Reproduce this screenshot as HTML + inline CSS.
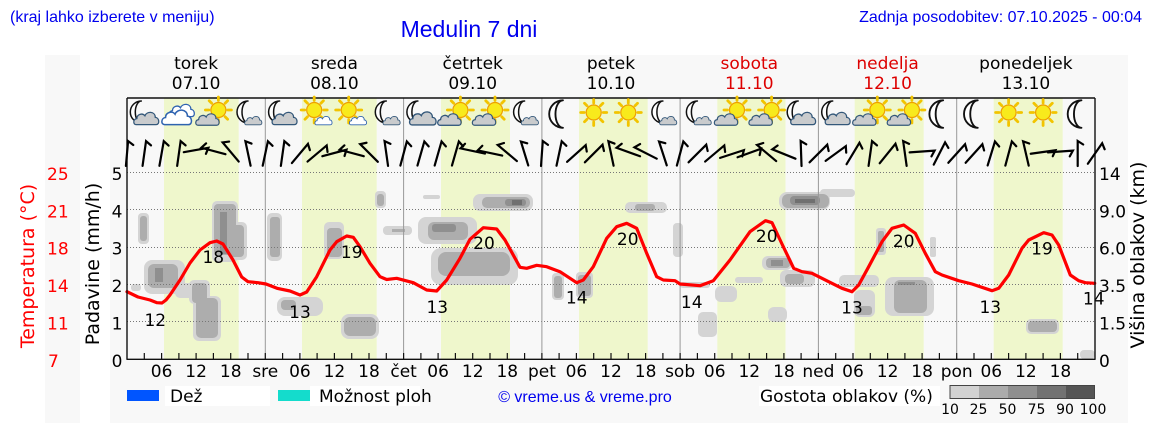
<!DOCTYPE html>
<html><head><meta charset="utf-8"><style>
html,body{margin:0;padding:0;background:#fff;width:1152px;height:443px;overflow:hidden}
svg{display:block}
.dj{font-family:"DejaVu Sans","Liberation Sans",sans-serif}
.ls{font-family:"Liberation Sans",Arial,sans-serif}
</style></head><body>
<svg width="1152" height="443" viewBox="0 0 1152 443" xmlns="http://www.w3.org/2000/svg">
<defs>
<g id="moon"><path d="M3,-11 A11,11 0 1,0 3,11 A6,11 0 0,1 3,-11 Z" fill="#fff" stroke="#111" stroke-width="1.5" stroke-linejoin="round"/></g>
<g id="sun"><g stroke="#f2c400" stroke-width="2.8" stroke-linecap="round"><path d="M9.5,0H13M6.7,6.7L9.2,9.2M0,9.5V13M-6.7,6.7L-9.2,9.2M-9.5,0H-13M-6.7,-6.7L-9.2,-9.2M0,-9.5V-13M6.7,-6.7L9.2,-9.2"/></g><circle r="7.5" fill="#f8ea1c" stroke="#ee9f00" stroke-width="1.2"/></g>
<path id="cg" d="M-14,7 C-18,7 -18,0 -13,-0.5 C-13,-6 -6,-8 -3,-4 C-1,-10 10,-10 10,-2 C15,-2 16,7 11,7 Z" fill="#c9cbcd" stroke="#34587a" stroke-width="1.6"/>
<path id="cw" d="M-14,7 C-18,7 -18,0 -13,-0.5 C-13,-6 -6,-8 -3,-4 C-1,-10 10,-10 10,-2 C15,-2 16,7 11,7 Z" fill="#fff" stroke="#2f63b0" stroke-width="1.6"/>
</defs>

<!-- header texts -->
<text x="10" y="22" class="ls" font-size="16" fill="#0000ee">(kraj lahko izberete v meniju)</text>
<text x="469" y="37" class="ls" font-size="23" fill="#0000ee" text-anchor="middle">Medulin 7 dni</text>
<text x="1142" y="22" class="ls" font-size="16" fill="#0000ee" text-anchor="end">Zadnja posodobitev: 07.10.2025 - 00:04</text>

<!-- panels -->
<rect x="45" y="55" width="35" height="368" fill="#f8f8f8"/>
<rect x="110" y="55" width="1018" height="368" fill="#f8f8f8"/>

<!-- yellow daylight bands -->
<g fill="#eff7cc">
<rect x="164" y="98" width="74.7" height="261"/>
<rect x="302" y="98" width="74.7" height="261"/>
<rect x="441" y="98" width="69" height="261"/>
<rect x="579" y="98" width="68.7" height="261"/>
<rect x="717.3" y="98" width="68.2" height="261"/>
<rect x="854.7" y="98" width="69" height="261"/>
<rect x="993.7" y="98" width="69" height="261"/>
</g>

<!-- clouds -->
<g fill="#d4d4d4">
<rect x="131" y="284" width="10" height="7" rx="3"/>
<rect x="138" y="213" width="11" height="31" rx="4"/>
<rect x="144" y="260" width="41" height="34" rx="8"/>
<rect x="175" y="283" width="25" height="15" rx="5"/>
<rect x="189" y="280" width="21" height="24" rx="5"/>
<rect x="193" y="296" width="28" height="45" rx="6"/>
<rect x="212" y="201" width="26" height="61" rx="5"/>
<rect x="226" y="222" width="21" height="38" rx="5"/>
<rect x="267" y="213" width="15" height="48" rx="5"/>
<rect x="277" y="297" width="46" height="19" rx="8"/>
<rect x="341" y="314" width="38" height="25" rx="8"/>
<rect x="324" y="222" width="20" height="37" rx="5"/>
<rect x="375" y="191" width="11" height="17" rx="4"/>
<rect x="383" y="226" width="29" height="9" rx="4"/>
<rect x="423" y="195" width="17" height="4" rx="2"/>
<rect x="418" y="217" width="59" height="27" rx="8"/>
<rect x="431" y="248" width="87" height="37" rx="10"/>
<rect x="473" y="194" width="60" height="17" rx="7"/>
<rect x="552" y="273" width="12" height="27" rx="4"/>
<rect x="576" y="272" width="17" height="26" rx="4"/>
<rect x="625" y="202" width="42" height="11" rx="5"/>
<rect x="673" y="223" width="10" height="34" rx="4"/>
<rect x="680" y="282" width="30" height="6" rx="3"/>
<rect x="715" y="286" width="22" height="16" rx="6"/>
<rect x="698" y="312" width="19" height="25" rx="5"/>
<rect x="735" y="277" width="28" height="6" rx="3"/>
<rect x="768" y="307" width="19" height="15" rx="6"/>
<rect x="762" y="256" width="30" height="14" rx="6"/>
<rect x="780" y="270" width="35" height="17" rx="6"/>
<rect x="779" y="192" width="51" height="18" rx="8"/>
<rect x="820" y="189" width="35" height="8" rx="4"/>
<rect x="839" y="275" width="40" height="12" rx="5"/>
<rect x="854" y="290" width="21" height="27" rx="6"/>
<rect x="876" y="228" width="10" height="27" rx="3"/>
<rect x="885" y="277" width="49" height="39" rx="8"/>
<rect x="930" y="237" width="6" height="20" rx="2"/>
<rect x="1026" y="319" width="33" height="15" rx="5"/>
<rect x="1080" y="350" width="15" height="9" rx="4"/>
</g>
<g fill="#adadad">
<rect x="140" y="216" width="7" height="25" rx="3"/>
<rect x="148" y="264" width="30" height="24" rx="6"/>
<rect x="192" y="283" width="15" height="20" rx="4"/>
<rect x="196" y="298" width="22" height="40" rx="5"/>
<rect x="214" y="204" width="22" height="51" rx="4"/>
<rect x="228" y="225" width="16" height="32" rx="4"/>
<rect x="270" y="217" width="10" height="40" rx="3"/>
<rect x="281" y="300" width="15" height="10" rx="4"/>
<rect x="344" y="317" width="32" height="19" rx="6"/>
<rect x="327" y="228" width="15" height="29" rx="4"/>
<rect x="377" y="194" width="7" height="12" rx="3"/>
<rect x="392" y="229" width="13" height="3"/>
<rect x="428" y="222" width="40" height="18" rx="6"/>
<rect x="438" y="252" width="72" height="24" rx="8"/>
<rect x="482" y="197" width="48" height="11" rx="5"/>
<rect x="554" y="276" width="8" height="22" rx="3"/>
<rect x="578" y="275" width="13" height="21" rx="3"/>
<rect x="635" y="204" width="20" height="7" rx="3"/>
<rect x="766" y="258" width="24" height="10" rx="4"/>
<rect x="785" y="274" width="19" height="10" rx="4"/>
<rect x="782" y="194" width="47" height="14" rx="6"/>
<rect x="856" y="306" width="16" height="9" rx="3"/>
<rect x="878" y="231" width="6" height="21" rx="2"/>
<rect x="894" y="280" width="33" height="33" rx="6"/>
<rect x="1028" y="321" width="29" height="11" rx="4"/>
</g>
<g fill="#8f8f8f">
<rect x="155" y="268" width="8" height="14"/>
<rect x="220" y="212" width="7" height="42"/>
<rect x="432" y="224" width="24" height="8" rx="3"/>
<rect x="505" y="199" width="21" height="7" rx="3"/>
<rect x="771" y="260" width="12" height="6"/>
<rect x="790" y="196" width="30" height="9" rx="4"/>
<rect x="898" y="282" width="17" height="3"/>
</g>
<g fill="#707070">
<rect x="512" y="200" width="10" height="5"/>
<rect x="795" y="199" width="20" height="4"/>
</g>

<!-- gridlines -->
<g stroke="#777" stroke-width="1" stroke-dasharray="1,2">
<line x1="127" y1="172.5" x2="1095" y2="172.5"/>
<line x1="127" y1="209.5" x2="1095" y2="209.5"/>
<line x1="127" y1="247.5" x2="1095" y2="247.5"/>
<line x1="127" y1="284.5" x2="1095" y2="284.5"/>
<line x1="127" y1="321.5" x2="1095" y2="321.5"/>
</g>

<!-- day separators -->
<g stroke="#999" stroke-width="1">
<line x1="265.3" y1="98" x2="265.3" y2="359"/>
<line x1="403.6" y1="98" x2="403.6" y2="359"/>
<line x1="541.9" y1="98" x2="541.9" y2="359"/>
<line x1="680.1" y1="98" x2="680.1" y2="359"/>
<line x1="818.4" y1="98" x2="818.4" y2="359"/>
<line x1="956.7" y1="98" x2="956.7" y2="359"/>
</g>

<!-- temperature curve -->
<polyline fill="none" stroke="#ff0000" stroke-width="3.2" stroke-linejoin="round" stroke-linecap="round" points="127,291.7 138,297 150,300 157,302.7 162,303 166,300 170,295 180,280 190,263 200,250 210,242.7 216.7,241 223,244 233,260 241.7,277 248,281.7 258,282.7 266,284 277,288.3 290,291 300,295 306.7,292 316.7,276.7 330,250 336.7,241.7 346.7,236 353.3,237.3 360,246.7 370,263.3 380,276.7 386.7,279.5 396.7,278.3 413.3,282.7 426.7,290 436.7,291 446.7,280 460,258.3 470,239.3 483.3,227.7 496.7,229 505,240 520,267.3 526.7,268.3 536.7,265.3 546.7,266.7 560,271.7 576.7,282.7 583.3,280 593.3,266.7 606.7,238.3 616.7,226.7 626.7,223.3 636.7,228.3 646.7,253.3 656.7,276.7 663.3,280 675,280.7 680,284 700,285.7 713.3,280.7 730,260 750,231.7 765.5,220.7 772,222.7 782,244 793.7,268.3 802,271.7 812,273.3 828.7,281.7 842,288.3 852,291.7 858.7,285 868.7,266.7 882,241.7 892,228.3 903.7,225 915.3,233.3 925.3,253.3 935.3,271.7 942,275 958.7,280.7 972,284 992,290.7 998.7,288.3 1008.7,275 1022,248.3 1028.7,240 1043.7,232.7 1052,235 1058.7,245 1070.3,275 1078.7,280.7 1085.3,282.7 1094.7,283.3"/>

<!-- temperature labels -->
<g class="dj" font-size="17" fill="#000" text-anchor="middle">
<text x="155.3" y="326">12</text>
<text x="213.3" y="263">18</text>
<text x="300" y="318">13</text>
<text x="351.7" y="258">19</text>
<text x="437.3" y="313">13</text>
<text x="484" y="249">20</text>
<text x="576.7" y="303.5">14</text>
<text x="627.7" y="245">20</text>
<text x="691.7" y="308">14</text>
<text x="766.7" y="242">20</text>
<text x="852" y="313.5">13</text>
<text x="903.7" y="247">20</text>
<text x="990.3" y="313">13</text>
<text x="1042" y="254.5">19</text>
<text x="1093.7" y="304.5">14</text>
</g>

<!-- frame -->
<g stroke="#111" stroke-width="1.4" fill="none">
<line x1="127" y1="98" x2="1095" y2="98"/>
<line x1="127" y1="98" x2="127" y2="359.5"/>
<line x1="1095" y1="98" x2="1095" y2="359.5"/>
<line x1="126.5" y1="359.3" x2="1095.5" y2="359.3"/>
</g>
<!-- ticks -->
<path stroke="#111" stroke-width="1.2" d="M144.3,353V359M161.6,353V359M178.9,353V359M196.1,353V359M213.4,353V359M230.7,353V359M248,353V359M265.3,353V359M282.6,353V359M299.9,353V359M317.1,353V359M334.4,353V359M351.7,353V359M369,353V359M386.3,353V359M403.6,353V359M420.9,353V359M438.1,353V359M455.4,353V359M472.7,353V359M490,353V359M507.3,353V359M524.6,353V359M541.9,353V359M559.1,353V359M576.4,353V359M593.7,353V359M611,353V359M628.3,353V359M645.6,353V359M662.9,353V359M680.1,353V359M697.4,353V359M714.7,353V359M732,353V359M749.3,353V359M766.6,353V359M783.9,353V359M801.1,353V359M818.4,353V359M835.7,353V359M853,353V359M870.3,353V359M887.6,353V359M904.9,353V359M922.1,353V359M939.4,353V359M956.7,353V359M974,353V359M991.3,353V359M1008.6,353V359M1025.9,353V359M1043.1,353V359M1060.4,353V359M1077.7,353V359"/>

<!-- x-axis labels -->
<g class="dj" font-size="17" fill="#000" text-anchor="middle">
<text x="161.6" y="377">06</text><text x="196.1" y="377">12</text><text x="230.7" y="377">18</text>
<text x="265.3" y="377">sre</text><text x="299.9" y="377">06</text><text x="334.4" y="377">12</text><text x="369" y="377">18</text>
<text x="403.6" y="377">čet</text><text x="438.1" y="377">06</text><text x="472.7" y="377">12</text><text x="507.3" y="377">18</text>
<text x="541.9" y="377">pet</text><text x="576.4" y="377">06</text><text x="611" y="377">12</text><text x="645.6" y="377">18</text>
<text x="680.1" y="377">sob</text><text x="714.7" y="377">06</text><text x="749.3" y="377">12</text><text x="783.9" y="377">18</text>
<text x="818.4" y="377">ned</text><text x="853" y="377">06</text><text x="887.6" y="377">12</text><text x="922.1" y="377">18</text>
<text x="956.7" y="377">pon</text><text x="991.3" y="377">06</text><text x="1025.9" y="377">12</text><text x="1060.4" y="377">18</text>
</g>

<!-- left axis labels -->
<g class="dj" font-size="17" fill="#000" text-anchor="end">
<text x="122.5" y="180">5</text><text x="122.5" y="217.3">4</text><text x="122.5" y="254.7">3</text>
<text x="122.5" y="292">2</text><text x="122.5" y="329.5">1</text><text x="122.5" y="366.8">0</text>
</g>
<g class="dj" font-size="17" fill="#ff0000">
<text x="47" y="180">25</text><text x="47" y="217.3">21</text><text x="47" y="254.7">18</text>
<text x="47" y="292">14</text><text x="47" y="329.5">11</text><text x="48" y="366.8">7</text>
</g>
<g class="dj" font-size="17" fill="#000">
<text x="1099" y="180">14</text><text x="1099" y="217.3">9.0</text><text x="1099" y="254.7">6.0</text>
<text x="1099" y="292">3.5</text><text x="1099" y="329.5">1.5</text><text x="1099" y="366.8">0</text>
</g>
<text class="dj" font-size="19" fill="#ff0000" text-anchor="middle" transform="translate(34,266) rotate(-90)">Temperatura (°C)</text>
<text class="dj" font-size="19" fill="#000" text-anchor="middle" transform="translate(99,264) rotate(-90)">Padavine (mm/h)</text>
<text class="dj" font-size="19" fill="#000" text-anchor="middle" transform="translate(1144,255) rotate(-90)">Višina oblakov (km)</text>

<!-- day labels -->
<g class="dj" font-size="17" text-anchor="middle" fill="#000">
<text x="196.1" y="69">torek</text><text x="196.1" y="89">07.10</text>
<text x="334.4" y="69">sreda</text><text x="334.4" y="89">08.10</text>
<text x="472.7" y="69">četrtek</text><text x="472.7" y="89">09.10</text>
<text x="611" y="69">petek</text><text x="611" y="89">10.10</text>
<text x="749.3" y="69" fill="#dd0000">sobota</text><text x="749.3" y="89" fill="#dd0000">11.10</text>
<text x="887.6" y="69" fill="#dd0000">nedelja</text><text x="887.6" y="89" fill="#dd0000">12.10</text>
<text x="1025.9" y="69">ponedeljek</text><text x="1025.9" y="89">13.10</text>
</g>

<!-- weather icons -->
<!-- d0 -->
<use href="#moon" transform="translate(138.3,112)"/><use href="#cg" transform="translate(147.3,119) scale(0.8)"/>
<use href="#cw" transform="translate(182.9,111) scale(0.8)"/><use href="#cw" transform="translate(177.9,118) scale(0.95)"/>
<use href="#sun" transform="translate(218.4,110)"/><use href="#cg" transform="translate(208.4,120) scale(0.75)"/>
<use href="#moon" transform="translate(245,112)"/><use href="#cg" transform="translate(254,121) scale(0.55)"/>
<!-- d1 -->
<use href="#moon" transform="translate(276.6,112)"/><use href="#cg" transform="translate(285.6,119) scale(0.8)"/>
<use href="#sun" transform="translate(314.2,110)"/><use href="#cw" transform="translate(324.2,121) scale(0.55)"/>
<use href="#sun" transform="translate(348.7,110)"/><use href="#cw" transform="translate(358.7,121) scale(0.55)"/>
<use href="#moon" transform="translate(383.3,112)"/><use href="#cg" transform="translate(392.3,121) scale(0.55)"/>
<!-- d2 -->
<use href="#moon" transform="translate(414.9,112)"/><use href="#cg" transform="translate(423.9,119) scale(0.85)"/>
<use href="#sun" transform="translate(460.4,110)"/><use href="#cw" transform="translate(450.4,120) scale(0.75)"/><use href="#cg" transform="translate(450.4,120) scale(0.75)"/>
<use href="#sun" transform="translate(495,110)"/><use href="#cg" transform="translate(485,120) scale(0.75)"/>
<use href="#moon" transform="translate(521.6,112)"/><use href="#cg" transform="translate(530.6,121) scale(0.55)"/>
<!-- d3 -->
<use href="#moon" transform="translate(559.2,114) scale(1.25)"/>
<use href="#sun" transform="translate(593.7,112.5)"/>
<use href="#sun" transform="translate(628.3,112.5)"/>
<use href="#moon" transform="translate(659.9,112)"/><use href="#cg" transform="translate(668.9,121) scale(0.55)"/>
<!-- d4 -->
<use href="#moon" transform="translate(694.4,112)"/><use href="#cg" transform="translate(703.4,121) scale(0.55)"/>
<use href="#sun" transform="translate(737,110)"/><use href="#cg" transform="translate(727,120) scale(0.75)"/>
<use href="#sun" transform="translate(771.6,110)"/><use href="#cg" transform="translate(761.6,120) scale(0.75)"/>
<use href="#moon" transform="translate(795.2,112)"/><use href="#cg" transform="translate(804.2,119) scale(0.8)"/>
<!-- d5 -->
<use href="#moon" transform="translate(829.7,112)"/><use href="#cg" transform="translate(838.7,119) scale(0.8)"/>
<use href="#sun" transform="translate(877.3,110)"/><use href="#cg" transform="translate(865.3,120) scale(0.75)"/>
<use href="#sun" transform="translate(911.9,110)"/><use href="#cg" transform="translate(899.9,120) scale(0.75)"/>
<use href="#moon" transform="translate(939.4,114) scale(1.25)"/>
<!-- d6 -->
<use href="#moon" transform="translate(974,114) scale(1.25)"/>
<use href="#sun" transform="translate(1008.6,112.5)"/>
<use href="#sun" transform="translate(1043.1,112.5)"/>
<use href="#moon" transform="translate(1077.7,114) scale(1.25)"/>

<!-- wind barbs -->
<g stroke="#000" stroke-width="2.2" fill="none" stroke-linecap="round">
<path transform="translate(127,153.5) rotate(-85)" d="M-12.5,0H12.5L9,5.5"/>
<path transform="translate(144.3,153.5) rotate(-82)" d="M-12.5,0H12.5L9,5.5"/>
<path transform="translate(161.6,153.5) rotate(-80)" d="M-12.5,0H12.5L9,5.5"/>
<path transform="translate(178.9,153.5) rotate(-82)" d="M-12.5,0H12.5L9,5.5"/>
<path transform="translate(196.1,150) rotate(-10)" d="M-12.5,0H12.5L9,5.5"/>
<path transform="translate(213.4,151) rotate(-165)" d="M-12.5,0H12.5L9,5.5"/>
<path transform="translate(230.7,152) rotate(-130)" d="M-12.5,0H12.5L9,5.5"/>
<path transform="translate(248,153.5) rotate(-102)" d="M-12.5,0H12.5L9,5.5"/>
<path transform="translate(265.3,153.5) rotate(-78)" d="M-12.5,0H12.5L9,5.5"/>
<path transform="translate(282.6,153.5) rotate(-82)" d="M-12.5,0H12.5L9,5.5"/>
<path transform="translate(299.9,153.5) rotate(-50)" d="M-12.5,0H12.5L9,5.5"/>
<path transform="translate(317.1,153.5) rotate(-40)" d="M-12.5,0H12.5L9,5.5"/>
<path transform="translate(334.4,153) rotate(-15)" d="M-12.5,0H12.5L9,5.5"/>
<path transform="translate(351.7,153) rotate(-165)" d="M-12.5,0H12.5L9,5.5"/>
<path transform="translate(369,153) rotate(-135)" d="M-12.5,0H12.5L9,5.5"/>
<path transform="translate(386.3,153.5) rotate(-98)" d="M-12.5,0H12.5L9,5.5"/>
<path transform="translate(403.6,153.5) rotate(-75)" d="M-12.5,0H12.5L9,5.5"/>
<path transform="translate(420.9,153.5) rotate(-74)" d="M-12.5,0H12.5L9,5.5"/>
<path transform="translate(438.1,153.5) rotate(-74)" d="M-12.5,0H12.5L9,5.5"/>
<path transform="translate(455.4,153.5) rotate(-74)" d="M-12.5,0H12.5L9,5.5"/>
<path transform="translate(472.7,151) rotate(-168)" d="M-12.5,0H12.5L9,5.5"/>
<path transform="translate(490,153) rotate(-168)" d="M-12.5,0H12.5L9,5.5"/>
<path transform="translate(507.3,153) rotate(-140)" d="M-12.5,0H12.5L9,5.5"/>
<path transform="translate(524.6,153.5) rotate(-107)" d="M-12.5,0H12.5L9,5.5"/>
<path transform="translate(541.9,153.5) rotate(-86)" d="M-12.5,0H12.5L9,5.5"/>
<path transform="translate(559.1,153.5) rotate(-78)" d="M-12.5,0H12.5L9,5.5"/>
<path transform="translate(576.4,153.5) rotate(-42)" d="M-12.5,0H12.5L9,5.5"/>
<path transform="translate(593.7,153.5) rotate(-45)" d="M-12.5,0H12.5L9,5.5"/>
<path transform="translate(611,153.5) rotate(-102)" d="M-12.5,0H12.5L9,5.5"/>
<path transform="translate(628.3,152) rotate(-160)" d="M-12.5,0H12.5L9,5.5"/>
<path transform="translate(645.6,153) rotate(-153)" d="M-12.5,0H12.5L9,5.5"/>
<path transform="translate(662.9,153.5) rotate(-108)" d="M-12.5,0H12.5L9,5.5"/>
<path transform="translate(680.1,153.5) rotate(-75)" d="M-12.5,0H12.5L9,5.5"/>
<path transform="translate(697.4,153.5) rotate(-45)" d="M-12.5,0H12.5L9,5.5"/>
<path transform="translate(714.7,153.5) rotate(-40)" d="M-12.5,0H12.5L9,5.5"/>
<path transform="translate(732,154) rotate(-18)" d="M-12.5,0H12.5L9,5.5"/>
<path transform="translate(749.3,153) rotate(-20)" d="M-12.5,0H12.5L9,5.5"/>
<path transform="translate(766.6,153) rotate(-140)" d="M-12.5,0H12.5L9,5.5"/>
<path transform="translate(783.9,154) rotate(-158)" d="M-12.5,0H12.5L9,5.5"/>
<path transform="translate(801.1,153.5) rotate(-92)" d="M-12.5,0H12.5L9,5.5"/>
<path transform="translate(818.4,153.5) rotate(-45)" d="M-12.5,0H12.5L9,5.5"/>
<path transform="translate(835.7,153.5) rotate(-36)" d="M-12.5,0H12.5L9,5.5"/>
<path transform="translate(853,153.5) rotate(-59)" d="M-12.5,0H12.5L9,5.5"/>
<path transform="translate(870.3,153.5) rotate(-82)" d="M-12.5,0H12.5L9,5.5"/>
<path transform="translate(887.6,153.5) rotate(-51)" d="M-12.5,0H12.5L9,5.5"/>
<path transform="translate(904.9,153.5) rotate(-98)" d="M-12.5,0H12.5L9,5.5"/>
<path transform="translate(922.1,151.5) rotate(-4)" d="M-12.5,0H12.5L9,5.5"/>
<path transform="translate(939.4,153.5) rotate(-63)" d="M-12.5,0H12.5L9,5.5"/>
<path transform="translate(956.7,153.5) rotate(-48)" d="M-12.5,0H12.5L9,5.5"/>
<path transform="translate(974,153.5) rotate(-48)" d="M-12.5,0H12.5L9,5.5"/>
<path transform="translate(991.3,153.5) rotate(-73)" d="M-12.5,0H12.5L9,5.5"/>
<path transform="translate(1008.6,153.5) rotate(-75)" d="M-12.5,0H12.5L9,5.5"/>
<path transform="translate(1025.9,153.5) rotate(-103)" d="M-12.5,0H12.5L9,5.5"/>
<path transform="translate(1043.1,152) rotate(-8)" d="M-12.5,0H12.5L9,5.5"/>
<path transform="translate(1060.4,151.5) rotate(-4)" d="M-12.5,0H12.5L9,5.5"/>
<path transform="translate(1077.7,153.5) rotate(-90)" d="M-12.5,0H12.5L9,5.5"/>
<path transform="translate(1095,153.5) rotate(-55)" d="M-12.5,0H12.5L9,5.5"/>
</g>

<!-- legend -->
<rect x="127" y="390" width="32" height="11" fill="#0055ff"/>
<rect x="165" y="386" width="105" height="20" fill="#fff"/>
<text x="170" y="402" class="dj" font-size="17" fill="#000">Dež</text>
<rect x="278" y="390" width="32" height="11" fill="#14dccc"/>
<rect x="310" y="386" width="110" height="20" fill="#fff"/>
<text x="319" y="402" class="dj" font-size="17" fill="#000">Možnost ploh</text>
<text x="585" y="402" class="ls" font-size="16" fill="#0000ee" text-anchor="middle">© vreme.us &amp; vreme.pro</text>
<rect x="759" y="386" width="181" height="20" fill="#fff"/>
<text x="760" y="402" class="dj" font-size="17" fill="#000">Gostota oblakov (%)</text>
<rect x="950" y="385.5" width="29" height="13" fill="#d2d2d2"/>
<rect x="979" y="385.5" width="29" height="13" fill="#ababab"/>
<rect x="1008" y="385.5" width="29" height="13" fill="#8f8f8f"/>
<rect x="1037" y="385.5" width="29" height="13" fill="#727272"/>
<rect x="1066" y="385.5" width="28.5" height="13" fill="#555"/>
<rect x="950" y="385.5" width="144.5" height="13" fill="none" stroke="#444" stroke-width="1"/>
<g class="dj" font-size="14" fill="#000" text-anchor="middle">
<text x="950" y="414">10</text><text x="978.5" y="414">25</text><text x="1007.5" y="414">50</text>
<text x="1036.5" y="414">75</text><text x="1065" y="414">90</text><text x="1093" y="414">100</text>
</g>
</svg>
</body></html>
